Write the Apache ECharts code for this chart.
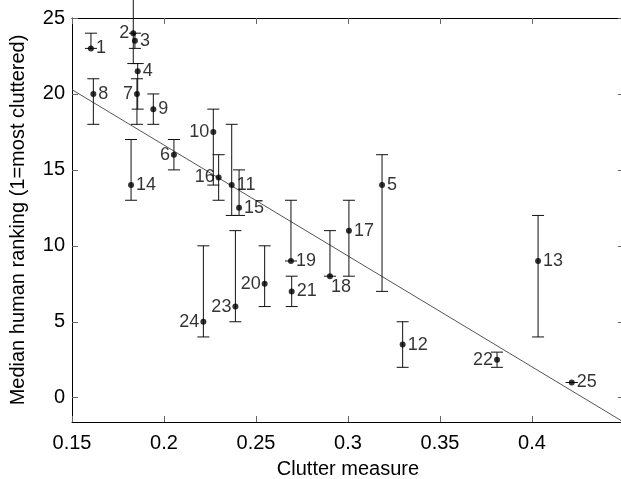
<!DOCTYPE html>
<html>
<head>
<meta charset="utf-8">
<script src="https://cdn.jsdelivr.net/npm/echarts@6/dist/echarts.min.js"></script>
<style>html,body{margin:0;padding:0;background:#fff;}#c{width:621px;height:479px;}</style>
</head>
<body>
<div id="c"></div>
<script>
// ---- data ----
var ids      = [1, 2, 3, 4, 5, 6, 7, 8, 9, 10, 11, 12, 13, 14, 15, 16, 17, 18, 19, 20, 21, 22, 23, 24, 25];
var clutter  = [0.1603, 0.1833, 0.1842, 0.1857, 0.3185, 0.2054, 0.1853, 0.1616, 0.1942, 0.2268, 0.2368, 0.3297, 0.4033, 0.1821, 0.2408, 0.2297, 0.3005, 0.2902, 0.2690, 0.2547, 0.2694, 0.3810, 0.2388, 0.2214, 0.4216];
var ranking  = [23, 24, 23.5, 21.5, 14, 16, 20, 20, 19, 17.5, 14, 3.5, 9, 14, 12.5, 14.5, 11, 8, 9, 7.5, 7, 2.5, 6, 5, 1];
var errLow   = [23, 22, 23, 19, 7, 15, 18, 18, 18, 14, 12, 2, 4, 13, 12, 13, 8, 8, 9, 6, 6, 2, 5, 4, 1];
var errHigh  = [24, 27, 24, 22, 16, 17, 21, 21, 20, 19, 18, 5, 12, 17, 15, 16, 13, 11, 13, 10, 8, 3, 11, 10, 1];
var fitX     = [0.15, 0.45];
var fitY     = [20.28, -1.62];
var xTicks   = [0.15, 0.2, 0.25, 0.3, 0.35, 0.4];
var yTicks   = [0, 5, 10, 15, 20, 25];

// ---- label placement (style) ----
var leftLabels = {2:1, 6:1, 7:1, 10:1, 16:1, 20:1, 22:1, 23:1, 24:1};
var belowLabels = {18:1};

var FONT = 'Liberation Sans';

var pts = ids.map(function (id, i) {
  var lab;
  if (belowLabels[id]) {
    lab = {show: true, position: 'right', distance: -2, offset: [0, 11]};
  } else if (leftLabels[id]) {
    lab = {show: true, position: 'left', distance: 1};
  } else {
    lab = {show: true, position: 'right', distance: 2};
  }
  return {value: [clutter[i], ranking[i]], name: String(id), label: lab};
});
var errs = ids.map(function (id, i) { return [clutter[i], errLow[i], errHigh[i]]; });
var fit = fitX.map(function (x, i) { return [x, fitY[i]]; });

var chart = echarts.init(document.getElementById('c'), null, {renderer: 'canvas'});
var axisLine = {show: true, onZero: false, lineStyle: {color: '#000', width: 1}};
var tickStyle = {show: true, inside: true, length: 6, lineStyle: {color: '#666', width: 1}};

chart.setOption({
  backgroundColor: '#fff',
  animation: false,
  grid: {left: 72, right: -3, top: 18, bottom: 57, containLabel: false, outerBoundsMode: 'none'},
  xAxis: [{
    type: 'value', min: 0.15, max: 0.45,
    name: 'Clutter measure', nameLocation: 'middle', nameGap: 37,
    nameTextStyle: {fontFamily: FONT, fontSize: 20, color: '#000'},
    axisLine: axisLine,
    axisTick: Object.assign({customValues: xTicks}, tickStyle),
    axisLabel: {customValues: xTicks, fontFamily: FONT, fontSize: 20, color: '#000', margin: 11,
      formatter: function (v) { return String(+v.toFixed(2)); }},
    splitLine: {show: false}
  }, {
    type: 'value', min: 0.15, max: 0.45, position: 'top',
    axisLine: axisLine,
    axisTick: Object.assign({customValues: xTicks}, tickStyle),
    axisLabel: {show: false}, splitLine: {show: false}
  }],
  yAxis: [{
    type: 'value', min: -1.6, max: 25,
    name: 'Median human ranking (1=most cluttered)', nameLocation: 'middle', nameGap: 44, nameRotate: 90,
    nameTextStyle: {fontFamily: FONT, fontSize: 20, color: '#000'},
    axisLine: axisLine,
    axisTick: Object.assign({customValues: yTicks}, tickStyle),
    axisLabel: {customValues: yTicks, fontFamily: FONT, fontSize: 20, color: '#000', margin: 7},
    splitLine: {show: false}
  }, {
    type: 'value', min: -1.6, max: 25, position: 'right',
    axisLine: axisLine,
    axisTick: Object.assign({customValues: yTicks}, tickStyle),
    axisLabel: {show: false}, splitLine: {show: false}
  }],
  series: [{
    type: 'line', data: fit, showSymbol: false, symbol: 'none',
    lineStyle: {color: '#555', width: 1}, silent: true, z: 1
  }, {
    type: 'custom', clip: false, z: 2,
    data: errs,
    encode: {x: 0, y: [1, 2]},
    renderItem: function (params, api) {
      var x = api.value(0);
      var lo = api.coord([x, api.value(1)]);
      var hi = api.coord([x, api.value(2)]);
      var hw = 6;
      var st = {stroke: '#111', lineWidth: 1};
      return {type: 'group', children: [
        {type: 'line', shape: {x1: lo[0], y1: lo[1], x2: hi[0], y2: hi[1]}, style: st},
        {type: 'line', shape: {x1: lo[0] - hw, y1: lo[1], x2: lo[0] + hw, y2: lo[1]}, style: st},
        {type: 'line', shape: {x1: hi[0] - hw, y1: hi[1], x2: hi[0] + hw, y2: hi[1]}, style: st}
      ]};
    }
  }, {
    type: 'scatter', data: pts, symbol: 'circle', symbolSize: 6, z: 3,
    itemStyle: {color: '#000'},
    label: {show: true, formatter: '{b}', fontFamily: FONT, fontSize: 18, color: '#000'}
  }]
});
</script>
</body>
</html>
